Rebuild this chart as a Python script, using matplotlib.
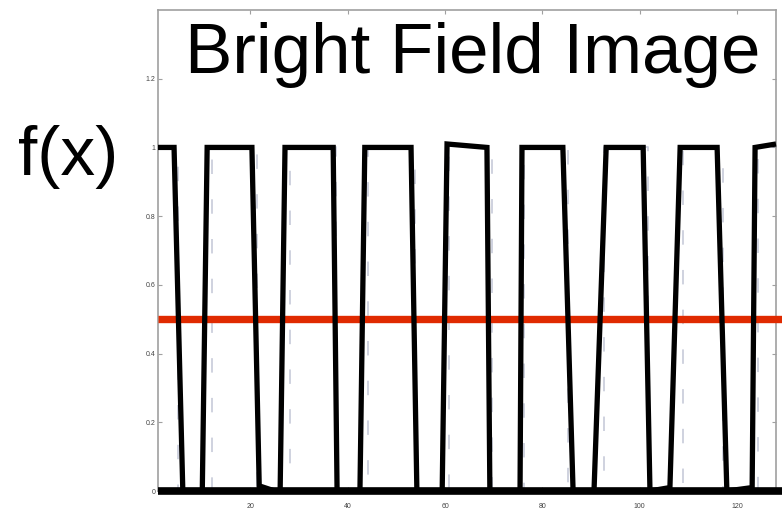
import matplotlib
matplotlib.use('Agg')
import matplotlib.pyplot as plt
from matplotlib.ticker import FixedLocator, FuncFormatter

# ---------------------------------------------------------------------------
# DATA
# ---------------------------------------------------------------------------
# measured intensity profile, polyline vertices
fx_x = [1, 4.3, 6.1, 10.1, 11.1, 20.3, 21.8, 25.0, 26.1, 27.1, 37.0, 37.8,
        42.5, 43.5, 53.0, 54.2, 59.4, 60.4, 68.6, 69.2, 75.4, 75.8, 84.2,
        86.3, 90.6, 93.1, 100.7, 102.1, 106.2, 108.3, 115.9, 117.9,
        123.1, 123.7, 128]
fx_y = [1, 1, 0, 0, 1, 1, 0.015, 0, 0, 1, 1, 0,
        0, 1, 1, 0, 0, 1.01, 1.0, 0, 0, 1, 1,
        0, 0, 1, 1, 0, 0.01, 1, 1, 0,
        0.01, 1, 1.01]

# ideal square wave (faint dashed), edge positions; starts high
ideal_edges = [5.1, 12.1, 21.3, 28.1, 37.6, 44.2, 53.8, 60.8, 69.6, 76.2,
               85.3, 92.7, 101.7, 108.9, 117.1, 124.3]
ideal_start, ideal_end = 1, 128

threshold = 0.5
baseline = 0

x_ticks = [20, 40, 60, 80, 100, 120]
y_ticks = [0, 0.2, 0.4, 0.6, 0.8, 1, 1.2]

# ---------------------------------------------------------------------------
# STYLE
# ---------------------------------------------------------------------------
FONT = 'Liberation Sans'
SPINE = '#a0a0a0'
TICK_TXT = '#444444'
RED = '#e02a00'

fig = plt.figure(figsize=(7.82, 5.18), dpi=100, facecolor='white')
ax = fig.add_axes([158 / 782, 27 / 518, 618 / 782, 481 / 518])

# faint dashed ideal wave
gx, gy = [ideal_start], [1]
level = 1
for e in ideal_edges:
    gx += [e, e]
    gy += [level, 1 - level]
    level = 1 - level
gx.append(ideal_end)
gy.append(level)
ax.plot(gx, gy, color='#7f86a8', lw=1.3, ls=(0, (8, 14)), alpha=0.4,
        clip_on=False, zorder=2)

ax.axhline(threshold, color=RED, lw=5.3, xmin=0, xmax=1.01, clip_on=False,
           solid_capstyle='butt', zorder=3)
ax.axhline(baseline, color='black', lw=5.5, xmin=0, xmax=1.01,
           solid_capstyle='butt', clip_on=False, zorder=4)
ax.plot(fx_x, fx_y, color='black', lw=3.8, solid_joinstyle='miter',
        solid_capstyle='butt', clip_on=False, zorder=4)

ax.set_xlim(1, 128)
ax.set_ylim(0, 1.4)
ax.xaxis.set_major_locator(FixedLocator(x_ticks))
ax.yaxis.set_major_locator(FixedLocator(y_ticks))
ax.yaxis.set_major_formatter(FuncFormatter(lambda v, p: f"{v:g}"))
ax.tick_params(direction='in', length=3, width=0.8, color=SPINE,
               labelsize=5, labelcolor=TICK_TXT, top=True, right=True)
ax.tick_params(axis='x', pad=9)
ax.tick_params(axis='y', pad=2)
for lbl in ax.get_xticklabels() + ax.get_yticklabels():
    lbl.set_family(FONT)
for s in ax.spines.values():
    s.set_edgecolor(SPINE)
    s.set_linewidth(1.2)

fig.text(185 / 782, (518 - 73) / 518, "Bright Field Image", fontsize=51,
         family=FONT, ha='left', va='baseline', color='black')
fig.text(18 / 782, (518 - 175) / 518, "f(x)", fontsize=50,
         family=FONT, ha='left', va='baseline', color='black')

fig.savefig('out.png', dpi=100, facecolor='white')
